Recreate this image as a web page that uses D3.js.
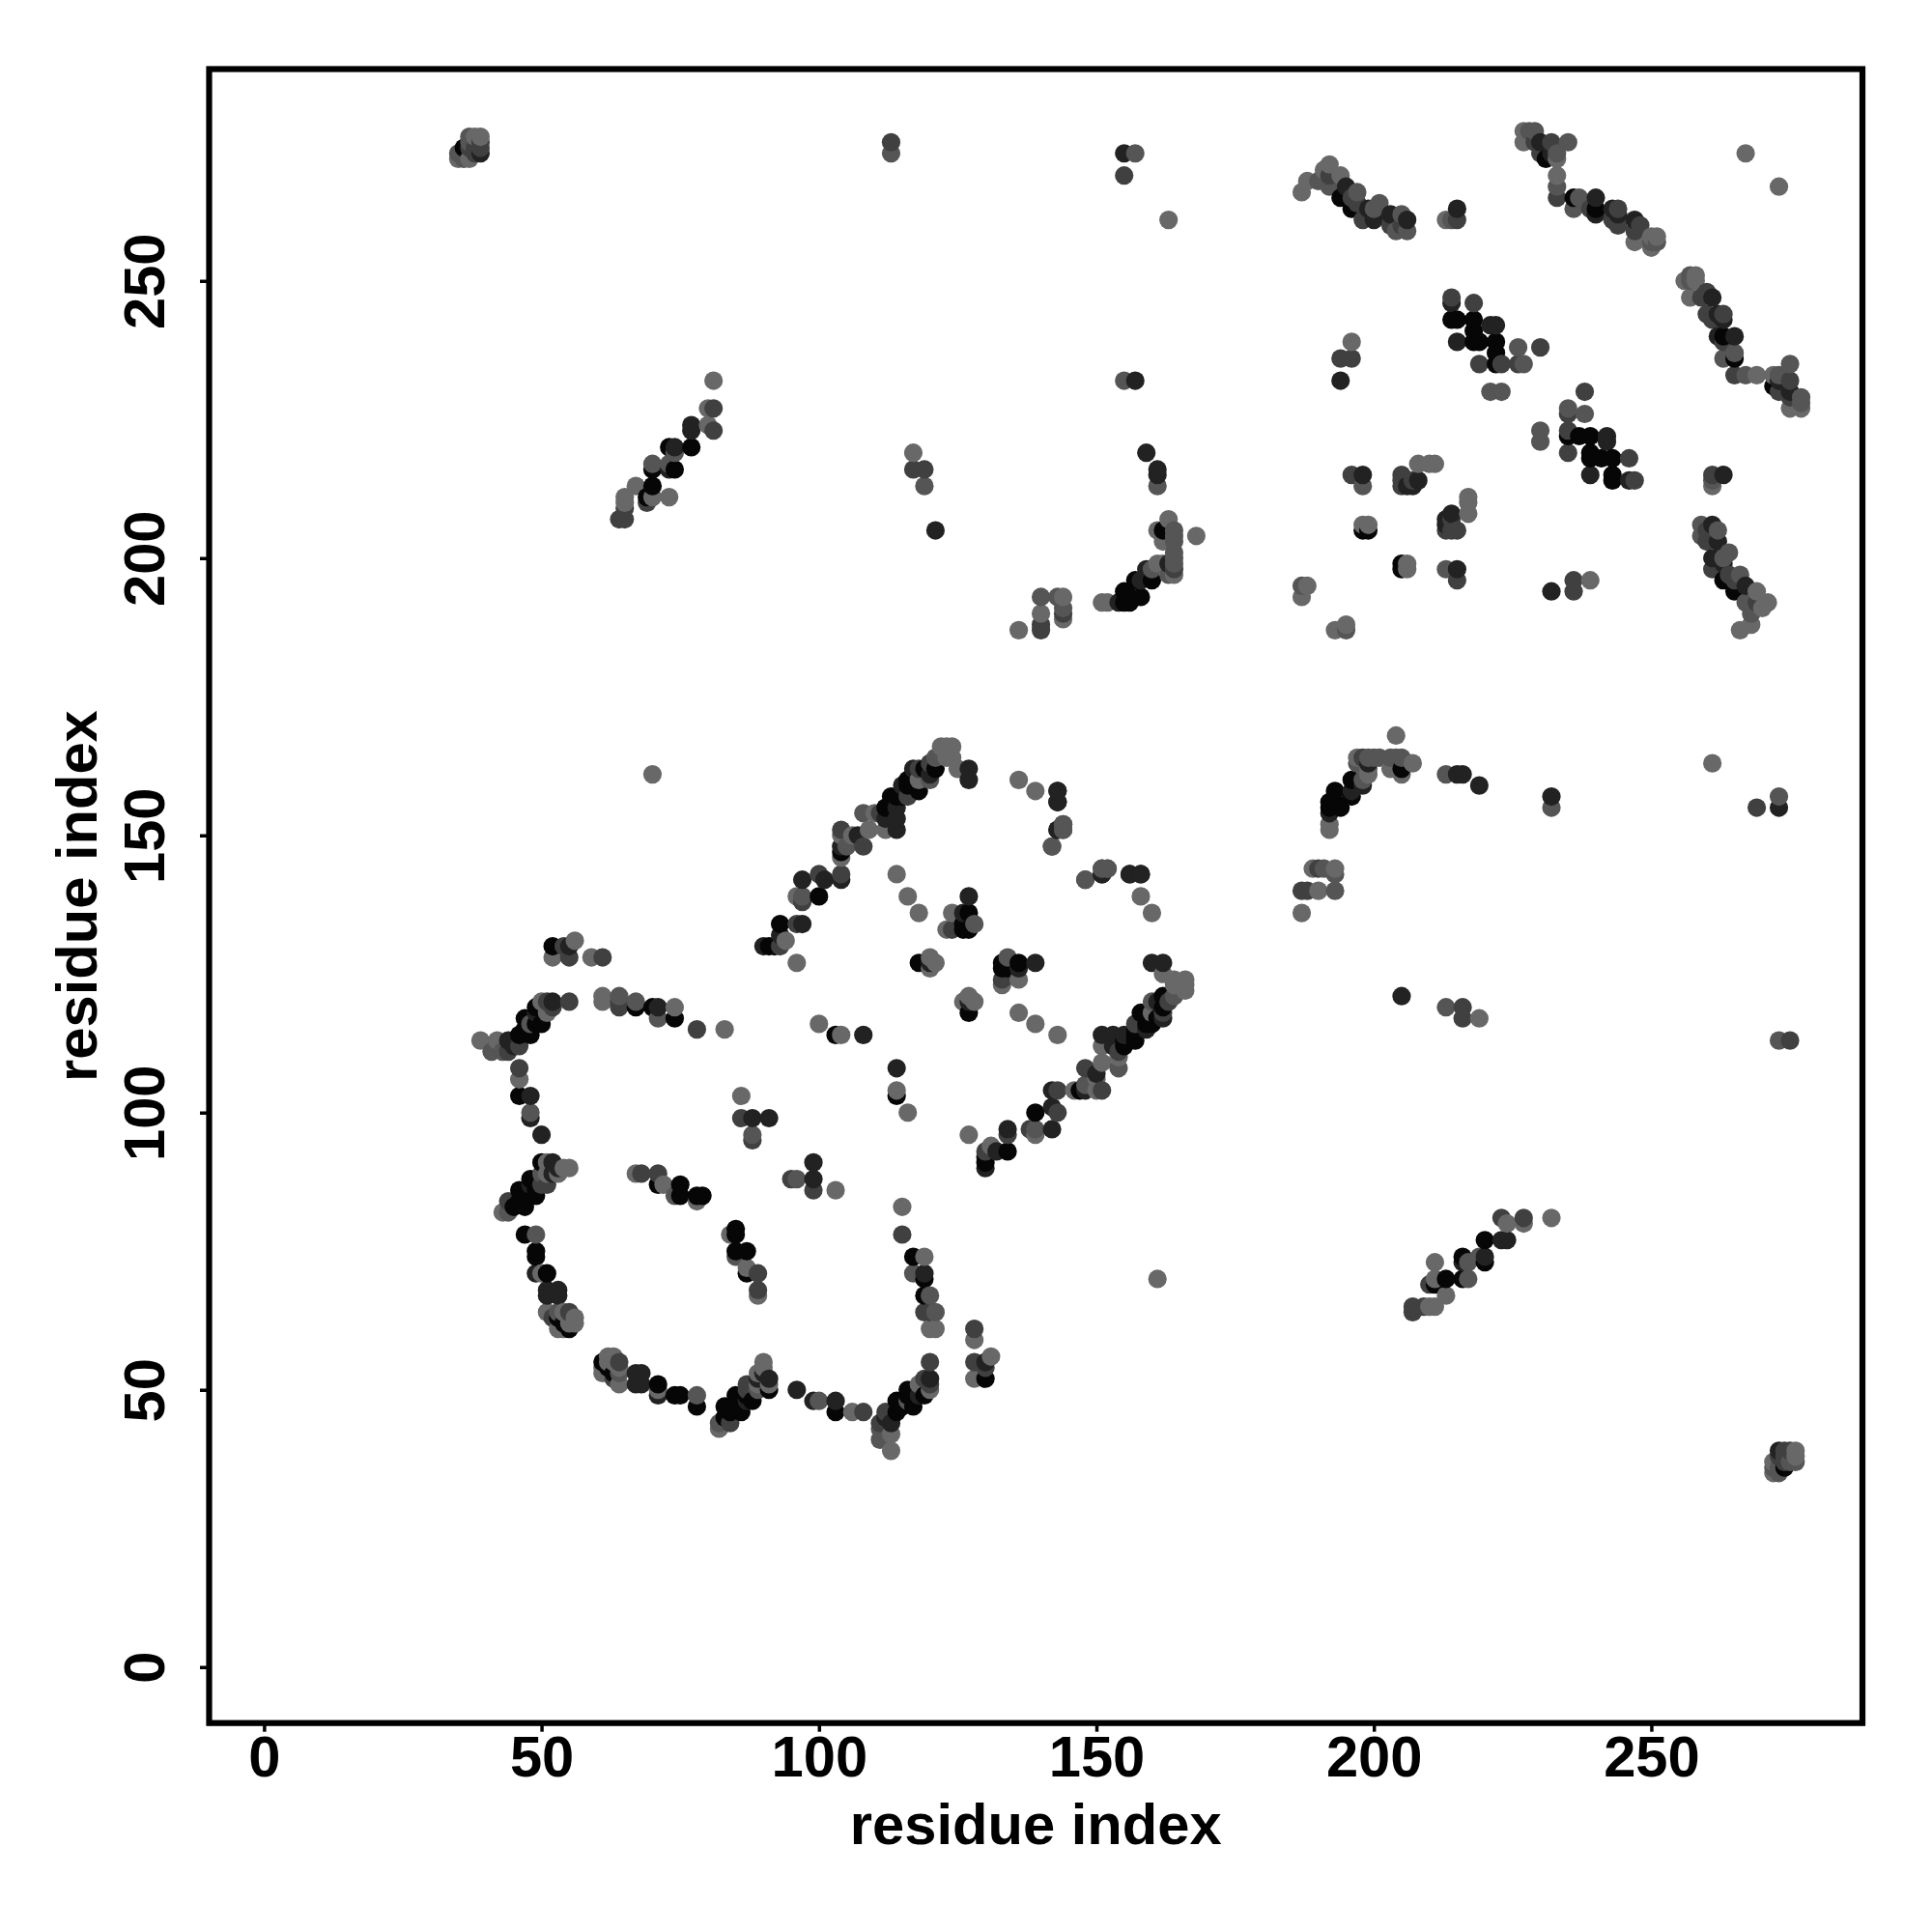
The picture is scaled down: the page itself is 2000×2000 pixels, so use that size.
<!DOCTYPE html>
<html lang="en">
<head>
    <meta charset="UTF-8">
    <title>Contact map</title>
    <style>
        body {
            margin: 0;
            padding: 0;
            background: #fff;
        }

        svg {
            display: block;
        }

        text {
            font-family: "Liberation Sans", Arial, sans-serif;
            font-weight: bold;
            font-size: 59.7px;
            fill: #000;
        }
    </style>
</head>
<body>
    <div id="chart"></div>

    <script src="https://d3js.org/d3.v7.min.js"></script>
    <script>
        // each contact is [residue i, residue j, strength 1-5], read from one side of the diagonal
        const helixOne = [
            [39,113,1],[41,111,2],[42,113,1],[43,111,2],[44,111,3],[44,113,4],[45,112,4],[46,112,3],[46,114,5],
            [47,117,5],[47,115,5],[48,114,5],[48,116,2],[49,116,5],[49,118,4],[49,119,5],[50,116,5],[50,120,1],
            [51,118,1],[51,120,3],[52,120,4],[52,119,3],[55,120,3],
            [46,108,3],[46,106,1],[46,103,5],[48,103,4],[48,100,2],[48,99,4],[50,96,4]
        ];
        const helixTwo = [
            [50,91,5],[51,91,1],[52,91,4],[53,90,4],[54,90,1],[55,90,1],[50,89,2],[51,89,1],[52,89,4],[53,89,1],
            [48,88,5],[50,87,3],[51,87,3],[48,87,4],[49,87,5],[49,86,5],[46,86,5],[47,85,5],[49,85,5],[46,84,5],
            [47,83,5],[44,84,3],[45,83,5],[44,82,2],[43,82,1]
        ];
        const loopLeft = [
            [47,78,5],[49,78,2],[49,75,5],[49,74,5],[49,71,4],[50,71,1],[51,71,5],[51,68,4],[51,67,4],[53,68,4],[53,67,4],
            [51,64,1],[52,63,3],[53,64,2],[53,63,5],[53,61,1],[54,61,1],[54,62,5],[54,64,1],[55,64,3],[55,61,5],[55,62,1],
            [55,63,1],[56,62,1],[56,63,1]
        ];
        const rowsUpper = [
            [52,130,5],[52,128,1],[54,130,3],[55,128,3],[55,130,4],[56,131,1],[59,128,1],[61,128,3],
            [61,121,1],[61,120,1],[64,121,2],[64,120,3],[64,119,3],[67,120,2],[67,119,5],[70,119,5],[71,119,4],
            [71,117,2],[74,119,1],[74,117,5],[78,115,3],[83,115,1],[100,116,1],[96,127,1]
        ];
        const loopInner = [
            [67,89,1],[68,89,3],[71,89,3],[71,87,5],[72,87,1],[75,87,5],[75,85,5],[74,85,2],[78,85,5],[79,85,5],
            [78,84,1],[86,103,1],[86,99,3],[88,99,4],[91,99,4],[88,96,2],[88,95,3],[103,114,5],[104,114,1],[108,114,4]
        ];
        const armUpper = [
            [90,130,4],[91,130,5],[92,130,5],[93,130,3],[93,132,4],[93,134,5],[94,131,1],[96,134,3],[97,134,4],
            [97,142,4],[97,139,2],[96,139,1],[97,138,3],[100,139,5],[100,143,3],[101,142,4],[104,143,3],[104,142,4],
            [104,148,4],[105,148,2],[104,147,5],[104,146,1],[104,151,3],[104,150,1],[106,150,1],[107,150,4],[108,148,3],
            [109,151,1],[108,154,2],[110,154,1],[111,154,3],[112,155,5],[112,153,4],[112,151,1],[113,157,5],[113,155,5],
            [114,157,5],[114,155,4],[114,153,4],[114,151,4],[115,159,4],[115,157,5],[116,160,5],[116,157,3],[116,159,5],
            [117,159,5],[117,162,4],[117,161,5],[118,162,3],[118,160,1],[118,158,5],[119,162,5],[120,163,3],[120,161,4],
            [120,160,2],[121,164,2],[121,162,5],[122,166,1],[123,166,1],[124,166,1],[123,164,1],[124,164,1],[125,162,1],
            [127,162,4],[127,160,4]
        ];
        const armInner = [
            [114,143,1],[116,139,1],[118,136,1],[127,139,4],[124,136,1],[127,136,5],[123,133,1],[126,134,5],[126,133,5],
            [127,133,5],[128,134,2],[126,136,4],[124,133,3],[118,127,5],[120,127,4],[120,128,1],[120,126,1],[121,127,1],
            [136,160,1],[139,158,1],[143,158,4],[143,156,4],[143,151,5],[144,152,2],[144,151,3],[142,148,2],
            [148,142,2],[151,143,4],[151,144,2],[152,144,2],[156,143,4],[158,143,4]
        ];
        const strandOff = [
            [65,207,3],[64,207,3],[65,209,3],[65,210,1],[65,211,1],[67,213,1],[69,210,3],[69,211,5],[70,211,1],[73,211,1],
            [70,213,5],[70,216,5],[70,217,2],[73,216,4],[73,217,2],[74,216,5],[73,220,5],[74,219,2],[74,220,4],[77,220,5],
            [77,223,4],[77,224,4],[80,224,1],[81,223,3],[80,227,1],[81,227,3],[81,232,1]
        ];
        const arcOff = [
            [136,187,1],[140,193,2],[140,190,1],[140,188,3],[140,187,3],[143,193,2],[144,193,1],[144,191,2],[144,190,3],[144,189,1],
            [151,192,1],[152,192,1],[154,192,4],[155,192,5],[156,192,5],[155,194,5],[156,193,5],[157,196,5],[158,193,5],[158,196,4],
            [159,198,4],[160,196,5],[160,198,2],[161,199,1],[162,199,1],[163,199,4],[164,198,3],[163,197,2],[164,197,1],[164,199,2],
            [164,200,2],[164,201,2],[162,203,1],[164,203,2],[164,204,2],[164,205,2],[162,205,5],[161,205,1],[163,207,1],[168,204,1],
            [161,213,2],[161,215,4],[161,216,4],[159,219,4]
        ];
        const scattered = [
            [35,272,1],[35,273,2],[36,272,2],[36,273,2],[36,274,5],[37,272,1],[37,274,3],[37,275,2],[37,276,2],[38,273,3],[38,274,3],
            [38,276,1],[39,273,4],[39,274,3],[39,275,3],[39,276,1],[70,161,1],[113,273,2],[113,275,3],[155,269,3],[155,273,4],[157,273,2],
            [163,261,1],[155,232,2],[157,232,4],[117,219,1],[117,216,3],[119,216,3],[119,213,2],[121,205,4]
        ];
        const strandA = [
            [187,266,1],[188,268,1],[190,268,2],[192,271,1],[191,270,1],[192,267,2],[192,269,3],[194,269,1],[194,265,5],[195,267,4],
            [196,263,5],[197,266,2],[196,265,3],[197,264,3],[198,261,3],[200,261,4],[199,263,4],[201,264,2],[200,263,2],[203,262,4],
            [205,262,2],[206,261,4],[206,259,2],[204,259,2],[203,260,3],[205,260,3],[213,261,1],[214,261,2],[215,261,3],[215,263,4]
        ];
        const strandB = [
            [227,277,1],[228,277,2],[229,277,2],[227,275,1],[229,275,3],[230,275,4],[232,275,3],[235,275,2],[230,273,3],[231,272,5],
            [232,273,4],[233,273,2],[233,272,1],[233,269,1],[233,267,2],[233,265,3],[236,265,5],[237,265,2],[236,263,2],[239,263,3],
            [240,265,4],[240,263,5],[240,262,4],[243,263,4],[244,263,3],[244,262,4],[243,261,3],[244,260,3],[247,261,4],[248,260,3],
            [247,259,3],[247,257,1],[250,256,1],[250,258,1],[251,258,1],[251,257,2],[250,257,2],[267,273,1]
        ];
        const blockUpper = [
            [187,193,1],[187,195,2],[188,195,1],[196,215,3],[198,215,4],[198,213,2],[198,205,5],[199,205,5],[198,206,1],[199,206,1],
            [205,215,3],[205,214,3],[205,213,3],[206,213,4],[207,213,4],[207,214,3],[208,214,4],[208,217,1],[210,217,1],[211,217,1],
            [196,236,3],[194,236,3],[196,239,1],[194,232,4],
            [214,247,3],[214,246,4],[218,246,3],[214,243,5],[215,243,5],[218,243,5],[218,241,5],[221,242,4],[222,242,4],[215,239,4],
            [218,239,5],[219,239,5],[222,239,5],[222,237,5],[226,238,2],[230,238,3],[219,235,3],[222,235,5],[223,235,3],[226,235,3],
            [227,235,2],[221,230,2],[223,230,2]
        ];

        const tickValues = [0, 50, 100, 150, 200, 250];
        const axisLabel = "residue index";

        const contacts = [
            ...helixOne, ...helixTwo, ...loopLeft, ...rowsUpper, ...loopInner, ...armUpper, ...armInner,
            ...strandOff, ...arcOff, ...scattered, ...strandA, ...strandB, ...blockUpper
        ];

        // the map is symmetric, so every contact is plotted on both sides
        const points = contacts.flatMap(([i, j, s]) => [{ x: i, y: j, s }, { x: j, y: i, s }]);
        points.sort((a, b) => d3.ascending(a.x, b.x) || d3.ascending(a.y, b.y));

        const frame = { left: 216.5, right: 1928, top: 71.5, bottom: 1783.7 };

        const svg = d3.select("#chart")
            .append("svg")
            .attr("width", 2000)
            .attr("height", 2000);

        const x = d3.scaleLinear()
            .domain([-9.9, 288.05])
            .range([frame.left, frame.right]);

        const y = d3.scaleLinear()
            .domain([-10.1, 288.2])
            .range([frame.bottom, frame.top]);

        const shade = d3.scaleLinear()
            .domain([1, 2, 3, 4, 5])
            .range(["#686868", "#555555", "#404040", "#222222", "#060606"]);

        svg.append("g")
            .selectAll("circle")
            .data(points)
            .enter()
            .append("circle")
            .attr("cx", d => x(d.x))
            .attr("cy", d => y(d.y))
            .attr("r", 9.6)
            .attr("fill", d => shade(d.s));

        const xAxis = svg.append("g")
            .attr("transform", `translate(0, ${frame.bottom})`)
            .call(d3.axisBottom(x).tickValues(tickValues).tickSize(9).tickPadding(3.8));

        const yAxis = svg.append("g")
            .attr("transform", `translate(${frame.left}, 0)`)
            .call(d3.axisLeft(y).tickValues(tickValues).tickSize(9.5));

        yAxis.selectAll("text")
            .attr("transform", "rotate(-90)")
            .attr("x", 0)
            .attr("y", -46.5)
            .attr("dy", 0)
            .style("text-anchor", "middle");

        svg.selectAll(".domain").remove();
        svg.selectAll(".tick line").attr("stroke", "#000").attr("stroke-width", 3.5);
        svg.selectAll("g").attr("font-size", null).attr("font-family", null);

        svg.append("rect")
            .attr("x", frame.left)
            .attr("y", frame.top)
            .attr("width", frame.right - frame.left)
            .attr("height", frame.bottom - frame.top)
            .attr("fill", "none")
            .attr("stroke", "#000")
            .attr("stroke-width", 6.2);

        svg.append("text")
            .attr("x", (frame.left + frame.right) / 2)
            .attr("y", 1909)
            .attr("text-anchor", "middle")
            .text(axisLabel);

        svg.append("text")
            .attr("transform", `translate(99.5, ${(frame.top + frame.bottom) / 2}) rotate(-90)`)
            .attr("text-anchor", "middle")
            .text(axisLabel);
    </script>
</body>
</html>
